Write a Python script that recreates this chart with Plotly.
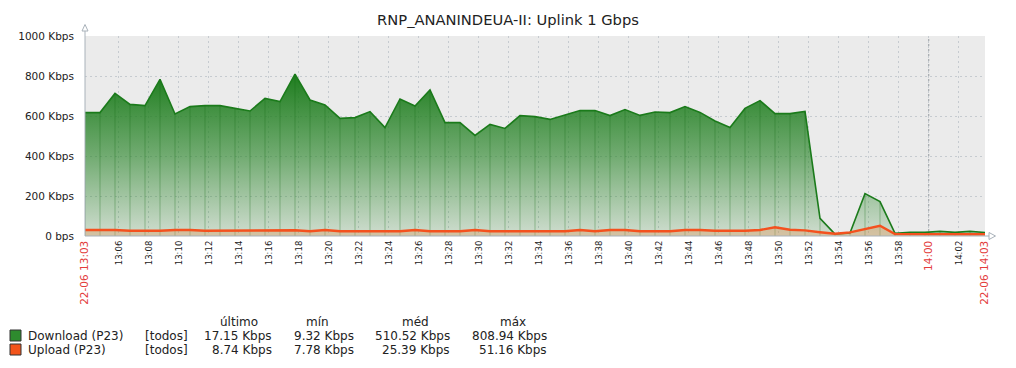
import pandas as pd
import plotly.graph_objects as go

# ---------------- data ----------------
sample_start = "2023-06-22 13:03:45"
sample_times = pd.date_range(sample_start, periods=61, freq="1min")

download_kbps = [617, 617, 713, 658, 652, 783, 610, 647, 652, 652, 638, 625, 688, 672, 809, 680, 655, 588,
                 592, 622, 542, 685, 650, 730, 567, 567, 503, 558, 538, 602, 597, 583, 605, 627, 627, 602,
                 632, 603, 620, 617,
                 647, 618, 575, 542, 638, 677, 612, 612, 623, 88, 9.3, 15, 212, 172, 13, 18, 18, 23, 18,
                 23, 17.15]
upload_kbps = [30, 30, 30, 26, 26, 26, 30, 30, 26, 26, 29, 29, 29, 29, 29, 24, 30, 24,
               24, 24, 24, 24, 30, 24, 24, 24, 30, 24, 24, 24, 24, 24, 24, 30, 24, 30, 30, 24, 24, 24,
               30, 30, 26, 26, 26, 30, 44, 31, 28, 19, 11, 18, 36, 51.16, 10, 9, 9, 8.5, 7.78, 8.5, 8.74]

x_range = ["2023-06-22 13:03:45", "2023-06-22 14:03:45"]
x_tick_vals = ["2023-06-22 13:03:45"] + [f"2023-06-22 13:{m:02d}:00" for m in range(6, 60, 2)] + \
              ["2023-06-22 14:00:00", "2023-06-22 14:02:00", "2023-06-22 14:03:45"]
x_tick_text = ["22-06 13:03"] + [f"13:{m:02d}" for m in range(6, 60, 2)] + ["14:00", "14:02", "22-06 14:03"]
red_ticks = {"22-06 13:03", "14:00", "22-06 14:03"}

y_tick_vals = [0, 200, 400, 600, 800, 1000]
y_tick_text = ["0 bps", "200 Kbps", "400 Kbps", "600 Kbps", "800 Kbps", "1000 Kbps"]

title_text = "RNP_ANANINDEUA-II: Uplink 1 Gbps"
legend_headers = ["último", "mín", "méd", "máx"]
legend_rows = [
    ("Download (P23)", "[todos]", ["17.15 Kbps", "9.32 Kbps", "510.52 Kbps", "808.94 Kbps"]),
    ("Upload (P23)", "[todos]", ["8.74 Kbps", "7.78 Kbps", "25.39 Kbps", "51.16 Kbps"]),
]

# ---------------- styling ----------------
FONT = "DejaVu Sans"
GREEN_LINE = "#1b7b1b"
ORANGE_LINE = "#f4511e"
AXIS_COL = "#a9b2ba"
GRID_COL = "rgb(198,203,208)"
L, R, T, B = 85, 985, 36, 236


def px(x):
    return (x - L) / (R - L)


def py(y):
    return (B - y) / (B - T)


fig = go.Figure()

# download area with vertical gradient
fig.add_trace(go.Scatter(
    x=sample_times, y=download_kbps, mode="lines",
    line=dict(color=GREEN_LINE, width=1.6),
    fill="tozeroy",
    fillgradient=dict(type="vertical", start=0, stop=820,
                      colorscale=[[0, "rgba(40,135,40,0.14)"], [0.5, "rgba(35,130,35,0.62)"],
                                  [1, "rgba(28,124,28,1)"]]),
    hoverinfo="skip", showlegend=False))

# per-sample vertical borders
vx, vy = [], []
for t, v in zip(sample_times, download_kbps):
    vx += [t, t, None]
    vy += [0, v, None]
fig.add_trace(go.Scatter(x=vx, y=vy, mode="lines",
                         line=dict(color="rgba(20,105,20,0.32)", width=1),
                         hoverinfo="skip", showlegend=False))

# upload area
fig.add_trace(go.Scatter(
    x=sample_times, y=upload_kbps, mode="lines",
    line=dict(color=ORANGE_LINE, width=2.4),
    fill="tozeroy", fillcolor="rgba(220,150,90,0.38)",
    hoverinfo="skip", showlegend=False))

ticktext_fmt = [f'<span style="color:#e33b3b;font-size:10.5px">{t}</span>' if t in red_ticks else t
                for t in x_tick_text]

fig.update_layout(
    width=1016, height=368,
    margin=dict(l=L, r=1016 - R, t=T, b=368 - B, autoexpand=False),
    paper_bgcolor="white", plot_bgcolor="#ebebeb",
    font=dict(family=FONT, color="#222222"),
    title=dict(text=title_text, x=0.5, xref="container", xanchor="center",
               y=1 - 19.5 / 368, yref="container", yanchor="middle",
               font=dict(family=FONT, size=14.7, color="#222222")),
    xaxis=dict(range=x_range, type="date", tickmode="array", tickvals=x_tick_vals,
               ticktext=ticktext_fmt, tickangle=-90, tickfont=dict(size=8.5, family=FONT, color="#222"),
               showgrid=True, gridcolor=GRID_COL, griddash="2px,3px", gridwidth=1,
               zeroline=False, showline=False, ticks="", ticklabelstandoff=2),
    yaxis=dict(range=[0, 1000], tickmode="array", tickvals=y_tick_vals, ticktext=y_tick_text,
               tickfont=dict(size=10.5, family=FONT, color="#222"),
               showgrid=True, gridcolor=GRID_COL, griddash="2px,3px", gridwidth=1,
               zeroline=False, showline=False, ticks="", ticklabelstandoff=10),
)

shapes = []
# darker grid line at 14:00
shapes.append(dict(type="line", xref="x", yref="paper", x0="2023-06-22 14:00:00", x1="2023-06-22 14:00:00",
                   y0=0, y1=1, line=dict(color="rgb(150,155,160)", width=1, dash="2px,3px"), layer="below"))
# axis lines
shapes.append(dict(type="line", xref="paper", yref="paper", x0=0, x1=0, y0=0, y1=py(29),
                   line=dict(color=AXIS_COL, width=1)))
shapes.append(dict(type="line", xref="paper", yref="paper", x0=0, x1=px(989), y0=0, y1=0,
                   line=dict(color=AXIS_COL, width=1)))
# arrow heads
shapes.append(dict(type="path", xref="paper", yref="paper",
                   path=f"M {px(82)},{py(31)} L {px(88)},{py(31)} L {px(85)},{py(24.5)} Z",
                   fillcolor="white", line=dict(color=AXIS_COL, width=1)))
shapes.append(dict(type="path", xref="paper", yref="paper",
                   path=f"M {px(989)},{py(232.5)} L {px(989)},{py(239.5)} L {px(995.5)},{py(236)} Z",
                   fillcolor="white", line=dict(color=AXIS_COL, width=1)))

# legend squares
leg_colors = ["#2e8b2e", "#f2541b"]
row_y = [335.5, 349.5]
for c, yy in zip(leg_colors, row_y):
    shapes.append(dict(type="rect", xref="paper", yref="paper",
                       x0=px(10), x1=px(21), y0=py(yy - 5.5), y1=py(yy + 5.5),
                       fillcolor=c, line=dict(color="#333333", width=1)))
fig.update_layout(shapes=shapes)

ann = []
LEG_FONT = dict(family=FONT, size=12, color="#222222")
header_x = [239, 317, 415, 513]
value_right = [274, 355.5, 452, 549]
for h, hx in zip(legend_headers, header_x):
    ann.append(dict(text=h, x=px(hx), y=py(321.5), xref="paper", yref="paper",
                    xanchor="center", yanchor="middle", showarrow=False, font=LEG_FONT))
for (name, scope, vals), yy in zip(legend_rows, row_y):
    ann.append(dict(text=name, x=px(26), y=py(yy), xref="paper", yref="paper",
                    xanchor="left", yanchor="middle", showarrow=False, font=LEG_FONT))
    ann.append(dict(text=scope, x=px(143), y=py(yy), xref="paper", yref="paper",
                    xanchor="left", yanchor="middle", showarrow=False, font=LEG_FONT))
    for v, vxr in zip(vals, value_right):
        ann.append(dict(text=v, x=px(vxr), y=py(yy), xref="paper", yref="paper",
                        xanchor="right", yanchor="middle", showarrow=False, font=LEG_FONT))
fig.update_layout(annotations=ann)

fig.write_html("out.html", config={"displayModeBar": False},
               post_script="document.body.style.margin='0';")
